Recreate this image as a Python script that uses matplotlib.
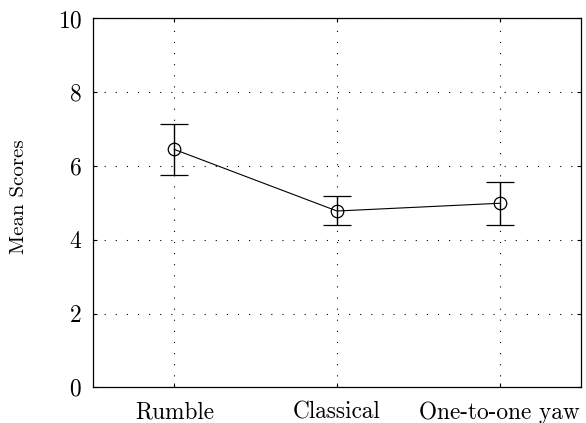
import matplotlib
matplotlib.use('Agg')
import matplotlib.pyplot as plt
import numpy as np

plt.rcParams['font.family'] = 'serif'
plt.rcParams['font.serif'] = ['cmr10', 'DejaVu Serif']
plt.rcParams['mathtext.fontset'] = 'cm'
plt.rcParams['axes.formatter.use_mathtext'] = True

# mean scores per interface with upper / lower error bar ends
conditions = ['Rumble', 'Classical', 'One-to-one yaw']
means = [6.45, 4.78, 4.99]
upper = [7.13, 5.18, 5.57]
lower = [5.76, 4.40, 4.40]

x = np.arange(1, len(conditions) + 1)
err_lo = np.array(means) - np.array(lower)
err_hi = np.array(upper) - np.array(means)

fig = plt.figure(figsize=(5.86, 4.23), dpi=100)
ax = fig.add_axes([93 / 586, 35.7 / 423, 488 / 586, 368.8 / 423])

ax.errorbar(x, means, yerr=[err_lo, err_hi], color='black', lw=0.8,
            elinewidth=1.0, capsize=10, capthick=1.0,
            marker='o', markersize=9, markerfacecolor='none',
            markeredgewidth=0.9)

ax.set_xlim(0.5, 3.5)
ax.set_ylim(0, 10)
ax.set_xticks(x)
ax.set_xticklabels(conditions)
ax.set_yticks(range(0, 11, 2))
ax.set_ylabel('Mean Scores', fontsize=15)
ax.yaxis.set_label_coords(-0.133, 0.518)

ax.grid(True, color='black', linestyle=(0, (1, 9)), linewidth=0.8)
ax.tick_params(axis='both', direction='in', length=3, width=0.8,
               labelsize=16.8, top=True, right=True)
ax.tick_params(axis='x', pad=10)
ax.tick_params(axis='y', pad=8)
for s in ax.spines.values():
    s.set_linewidth(0.9)

fig.savefig('out.png', dpi=100)
